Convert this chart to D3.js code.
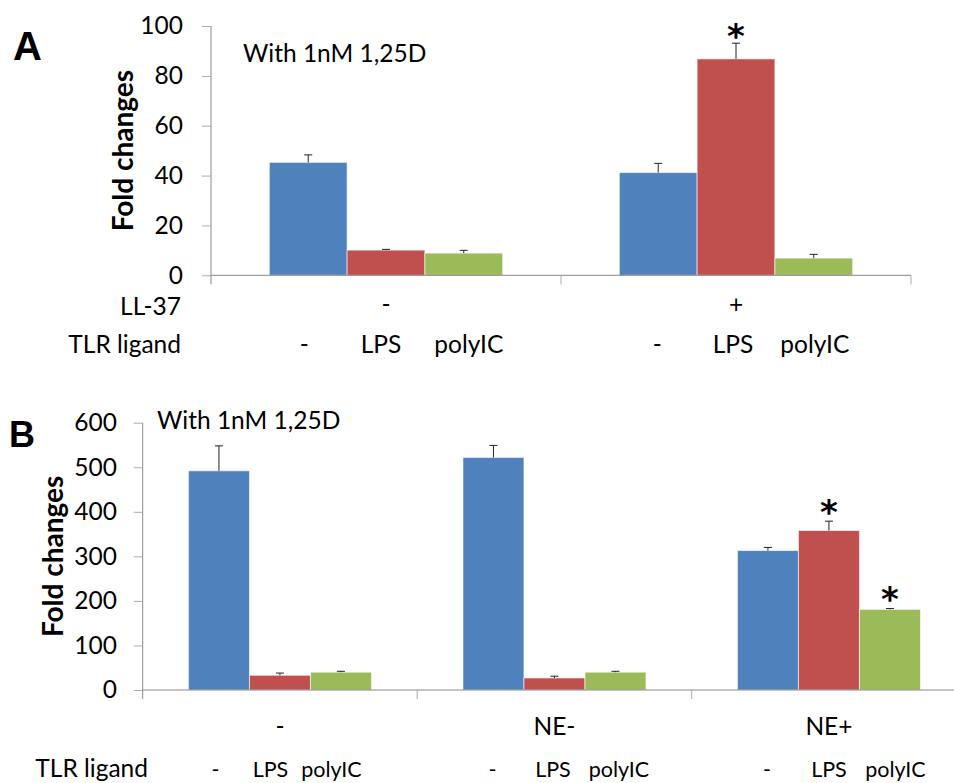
<!DOCTYPE html>
<html>
<head>
<meta charset="utf-8">
<script src="https://cdn.jsdelivr.net/npm/d3@7"></script>
<style>
  body { margin: 0; background: #fff; }
  svg { display: block; }
  text { font-family: Lato, "Open Sans", sans-serif; fill: #000; }
</style>
</head>
<body>
<svg id="chart" width="954" height="783"></svg>
<script>
// ---------- DATA ----------
const tlrLigands = ["-", "LPS", "polyIC"];
const seriesColors = ["#4F81BD", "#C0504D", "#9BBB59"];

// Panel A
const aGroups = ["-", "+"];              // LL-37
const aTicks = [0, 20, 40, 60, 80, 100];
const aNone   = [45.3, 41.2];
const aLPS    = [10.1, 86.8];
const aPolyIC = [8.9, 6.9];
const aNoneErr   = [3.0, 3.7];
const aLPSErr    = [0.3, 6.3];
const aPolyICErr = [1.1, 1.5];
const aStars = [[false, false, false], [false, true, false]];

// Panel B
const bGroups = ["-", "NE-", "NE+"];
const bTicks = [0, 100, 200, 300, 400, 500, 600];
const bNone   = [492, 522, 313];
const bLPS    = [33, 27, 358];
const bPolyIC = [40, 40, 181];
const bNoneErr   = [56, 27, 7];
const bLPSErr    = [5, 4, 21];
const bPolyICErr = [2, 2, 2];
const bStars = [[false, false, false], [false, false, false], [false, true, true]];

// ---------- DRAW ----------
const svg = d3.select("#chart");

function panel(cfg) {
  const g = svg.append("g");
  const y = d3.scaleLinear().domain([0, cfg.yMax]).range([cfg.y0, cfg.y1]);
  const xg = d3.scaleBand().domain(cfg.groups).range([cfg.xLeft, cfg.xLeft + cfg.bandW * cfg.groups.length]).padding(0);
  const xi = d3.scaleBand().domain(tlrLigands).range([0, xg.bandwidth()]).paddingInner(0).paddingOuter(0.75);

  const rows = [];
  cfg.groups.forEach((grp, gi) => {
    tlrLigands.forEach((lig, si) => {
      rows.push({ grp, lig, si, gi, v: cfg.series[si][gi], e: cfg.errs[si][gi], star: cfg.stars[gi][si] });
    });
  });

  // bars
  g.selectAll("rect.bar").data(rows).join("rect")
    .attr("class", "bar")
    .attr("x", d => xg(d.grp) + xi(d.lig))
    .attr("width", xi.bandwidth())
    .attr("y", d => y(d.v))
    .attr("height", d => y(0) - y(d.v))
    .attr("fill", d => seriesColors[d.si])
    .attr("stroke", "rgba(255,255,255,0.6)")
    .attr("stroke-width", 1);

  // error bars
  const eb = g.selectAll("g.err").data(rows).join("g").attr("class", "err")
    .attr("transform", d => `translate(${xg(d.grp) + xi(d.lig) + xi.bandwidth() / 2},0)`);
  eb.append("line").attr("x1", 0).attr("x2", 0)
    .attr("y1", d => y(d.v)).attr("y2", d => y(d.v + d.e))
    .attr("stroke", "#222").attr("stroke-width", 1);
  eb.append("line").attr("x1", -4).attr("x2", 4)
    .attr("y1", d => y(d.v + d.e)).attr("y2", d => y(d.v + d.e))
    .attr("stroke", "#222").attr("stroke-width", 1);

  // stars
  g.selectAll("text.star").data(rows.filter(d => d.star)).join("text")
    .attr("class", "star")
    .attr("x", d => xg(d.grp) + xi(d.lig) + xi.bandwidth() / 2)
    .attr("y", d => y(d.v + d.e) - cfg.starGap)
    .attr("text-anchor", "middle")
    .attr("font-size", 34).attr("font-weight", "bold")
    .style("font-family", "'DejaVu Sans', sans-serif")
    .text("*");

  // y axis
  const yAxis = d3.axisLeft(y).tickValues(cfg.ticks).tickSize(9).tickPadding(cfg.tickPad).tickSizeOuter(0);
  const ya = g.append("g").attr("transform", `translate(${cfg.xLeft},0)`).call(yAxis);
  ya.select(".domain").attr("stroke", "#888").attr("d", `M0,${y(cfg.yMax)}V${y(0) + 9}`);
  ya.selectAll(".tick line").attr("stroke", "#aaa");
  ya.selectAll(".tick text").attr("font-size", cfg.fs).style("font-family", "Lato, sans-serif").attr("fill", "#000");

  // x axis line + boundary ticks
  const xEnd = cfg.xAxisEnd;
  g.append("line").attr("x1", cfg.xLeft).attr("x2", xEnd).attr("y1", y(0)).attr("y2", y(0)).attr("stroke", "#888");
  const bounds = cfg.groups.map(d => xg(d)).slice(1).concat([xg(cfg.groups[cfg.groups.length - 1]) + xg.bandwidth()]);
  g.selectAll("line.xt").data(bounds.filter(b => b <= 954)).join("line").attr("class", "xt")
    .attr("x1", d => d).attr("x2", d => d).attr("y1", y(0)).attr("y2", y(0) + 9).attr("stroke", "#aaa");

  // group labels
  g.selectAll("text.grp").data(cfg.groups).join("text").attr("class", "grp")
    .attr("x", d => xg(d) + xg.bandwidth() / 2)
    .attr("y", cfg.grpY)
    .attr("text-anchor", "middle").attr("font-size", cfg.fs)
    .text(d => d);

  // TLR labels
  g.selectAll("text.tlr").data(rows).join("text").attr("class", "tlr")
    .attr("x", d => xg(d.grp) + xi(d.lig) + xi.bandwidth() / 2 + cfg.tlrShift[d.gi][d.si])
    .attr("y", cfg.tlrY)
    .attr("text-anchor", "middle").attr("font-size", cfg.tlrFs)
    .text(d => d.lig);

  // row labels
  cfg.rowLabels.forEach(r => {
    g.append("text").attr("x", r.x).attr("y", r.y).attr("text-anchor", "end").attr("font-size", cfg.fs).text(r.t);
  });

  // y title
  g.append("text")
    .attr("transform", `translate(${cfg.titleX},${(y(0) + y(cfg.yMax)) / 2}) rotate(-90)`)
    .attr("text-anchor", "middle").attr("font-size", 28).attr("font-weight", "bold")
    .text("Fold changes");

  // annotation
  g.append("text").attr("x", cfg.annX).attr("y", cfg.annY).attr("font-size", cfg.fs).text("With 1nM 1,25D");

  // panel letter
  g.append("text").attr("x", cfg.letterX).attr("y", cfg.letterY)
    .attr("font-size", cfg.letterFs).attr("font-weight", "bold")
    .style("font-family", "'Liberation Sans', Arial, sans-serif")
    .text(cfg.letter);
}

panel({
  groups: aGroups, yMax: 100, ticks: aTicks, y0: 275.3, y1: 26,
  xLeft: 211, bandW: 350, xAxisEnd: 911,
  series: [aNone, aLPS, aPolyIC], errs: [aNoneErr, aLPSErr, aPolyICErr], stars: aStars,
  tickPad: 19, fs: 24.5, tlrFs: 24.5, starGap: -5,
  grpY: 313, tlrY: 353, tlrShift: [[-4, -5, 5], [-1, -3, 1]],
  rowLabels: [{ t: "LL-37", x: 181, y: 315 }, { t: "TLR ligand", x: 181, y: 353 }],
  titleX: 133, annX: 243, annY: 62,
  letter: "A", letterX: 13, letterY: 60, letterFs: 40
});

panel({
  groups: bGroups, yMax: 600, ticks: bTicks, y0: 690, y1: 422.7,
  xLeft: 142.7, bandW: 274.5, xAxisEnd: 954,
  series: [bNone, bLPS, bPolyIC], errs: [bNoneErr, bLPSErr, bPolyICErr], stars: bStars,
  tickPad: 16.7, fs: 24.5, tlrFs: 21.5, starGap: -3,
  grpY: 735, tlrY: 777, tlrShift: [[-3.5, -9.5, -9.5], [-1, -1.5, 3.5], [-1, 0, 5.5]],
  rowLabels: [{ t: "TLR ligand", x: 148, y: 777 }],
  titleX: 63, annX: 157, annY: 429,
  letter: "B", letterX: 9, letterY: 447, letterFs: 36
});
</script>
</body>
</html>
